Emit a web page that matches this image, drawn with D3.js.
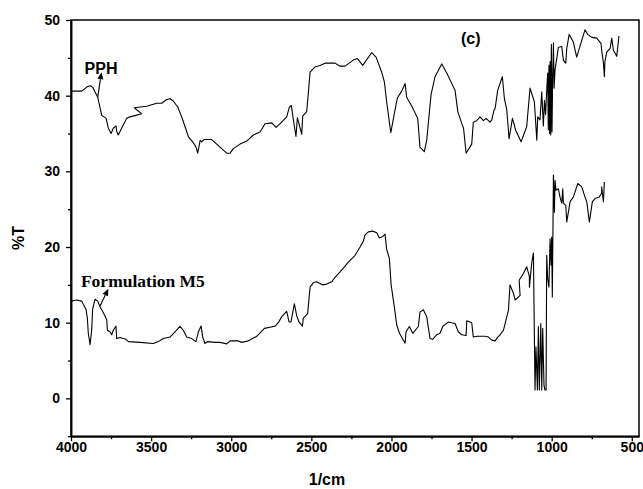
<!DOCTYPE html>
<html><head><meta charset="utf-8">
<script src="https://cdn.jsdelivr.net/npm/d3@7"></script>
<style>body{margin:0;background:#fff}svg{display:block}</style>
</head><body>
<svg id="c" width="643" height="489"></svg>
<script>
const xTicks = [4000,3500,3000,2500,2000,1500,1000,500];
const xMinor = [3750,3250,2750,2250,1750,1250,750];
const yTicks = [0,10,20,30,40,50];
const yMinor = [-5,5,15,25,35,45];
const xLabel = "1/cm";
const yLabel = "%T";
const seriesNames = ["PPH","Formulation M5"];
const panelLabel = "(c)";

const pph = [[4000,40.6],[3933,40.6],[3898,41.2],[3877,41.3],[3865,41.1],[3833,39.8],[3825,39.0],[3808,37.4],[3781,37.0],[3767,35.7],[3750,35.0],[3736,35.7],[3719,36.0],[3715,35.3],[3705,34.8],[3684,35.7],[3653,37.0],[3632,37.2],[3594,37.4],[3559,37.6],[3605,38.4],[3528,38.6],[3465,39.0],[3434,39.0],[3403,39.5],[3382,39.6],[3362,39.3],[3334,38.5],[3309,37.2],[3288,35.9],[3268,34.6],[3237,33.8],[3220,33.2],[3209,32.4],[3194,34.1],[3184,33.9],[3170,34.2],[3122,34.2],[3070,33.2],[3028,32.4],[3007,32.4],[2987,33.0],[2945,33.6],[2903,34.0],[2862,34.8],[2820,35.2],[2789,36.3],[2747,36.4],[2720,35.8],[2695,36.3],[2654,37.2],[2637,38.5],[2625,38.7],[2612,36.8],[2596,34.6],[2587,37.1],[2560,34.9],[2554,37.3],[2529,37.9],[2519,40.3],[2508,43.1],[2477,43.8],[2446,44.0],[2414,44.3],[2352,44.3],[2321,43.9],[2290,43.9],[2238,44.7],[2213,44.9],[2179,44.0],[2123,45.7],[2096,45.1],[2061,43.1],[2044,41.8],[2030,39.2],[2004,35.1],[1984,37.4],[1963,39.7],[1936,40.6],[1915,41.6],[1905,39.8],[1873,38.6],[1836,37.0],[1822,33.2],[1795,32.6],[1780,34.1],[1753,40.1],[1728,42.5],[1686,44.2],[1655,43.0],[1603,40.7],[1586,37.9],[1561,36.3],[1550,35.7],[1534,32.4],[1499,33.6],[1489,36.5],[1468,36.7],[1447,37.2],[1426,36.7],[1409,37.0],[1385,36.5],[1374,36.8],[1360,38.1],[1353,38.3],[1337,40.7],[1308,42.5],[1295,39.6],[1280,38.1],[1266,34.3],[1245,37.0],[1224,35.4],[1191,33.9],[1156,35.9],[1135,41.0],[1108,39.2],[1093,34.1],[1087,37.2],[1073,36.8],[1062,40.5],[1052,36.0],[1045,39.4],[1038,37.5],[1031,40.7],[1025,43.0],[1021,35.5],[1017,44.0],[1013,35.0],[1010,44.5],[1006,34.8],[1002,46.8],[998,35.2],[994,42.0],[989,47.0],[985,41.0],[979,43.4],[958,46.4],[937,46.5],[927,44.7],[912,44.3],[906,46.2],[891,48.1],[865,47.1],[844,45.1],[808,47.6],[792,48.7],[775,48.1],[750,47.7],[719,47.6],[692,46.9],[688,46.0],[677,44.3],[671,42.5],[668,44.5],[656,45.8],[636,46.2],[625,47.6],[615,46.0],[594,45.2],[580,47.9]];

const m5 = [[4000,12.85],[3965,13.0],[3933,12.85],[3906,11.7],[3898,10.6],[3892,8.6],[3881,7.1],[3871,9.0],[3865,11.8],[3850,13.1],[3833,12.85],[3819,12.1],[3798,11.3],[3777,10.4],[3773,9.0],[3757,8.8],[3746,8.4],[3736,9.0],[3719,9.55],[3715,7.9],[3694,8.05],[3674,7.9],[3657,7.8],[3642,7.5],[3569,7.4],[3486,7.25],[3455,7.5],[3424,7.9],[3382,8.1],[3351,8.8],[3320,9.5],[3299,9.0],[3278,8.1],[3247,7.9],[3220,7.5],[3205,8.8],[3188,9.55],[3178,8.1],[3164,7.25],[3149,7.5],[3101,7.4],[3070,7.4],[3028,7.2],[3007,7.6],[2960,7.6],[2935,7.4],[2893,7.6],[2841,8.2],[2793,9.25],[2758,9.4],[2726,9.55],[2706,10.0],[2685,10.8],[2654,11.5],[2639,10.1],[2627,10.1],[2606,12.5],[2591,10.9],[2577,10.1],[2556,9.55],[2550,10.6],[2523,11.2],[2508,14.7],[2487,15.3],[2467,15.4],[2431,15.0],[2404,15.1],[2373,15.4],[2352,16.0],[2321,16.7],[2300,17.2],[2269,18.0],[2227,18.9],[2196,20.0],[2175,20.8],[2165,21.6],[2144,22.0],[2117,22.1],[2092,21.9],[2075,21.2],[2054,21.4],[2040,21.7],[2030,19.7],[2013,18.5],[2002,15.0],[1982,12.1],[1967,9.7],[1950,8.6],[1929,7.8],[1915,7.3],[1909,8.8],[1888,9.5],[1867,8.6],[1832,9.5],[1822,11.4],[1801,11.7],[1780,10.8],[1759,7.9],[1743,7.8],[1718,8.4],[1697,8.6],[1680,9.5],[1645,10.1],[1603,9.9],[1583,8.8],[1561,8.4],[1534,8.3],[1530,10.25],[1499,10.0],[1489,8.1],[1464,8.2],[1416,8.2],[1395,8.1],[1374,7.7],[1353,7.6],[1337,8.1],[1322,8.4],[1301,9.0],[1280,10.8],[1270,11.6],[1260,15.0],[1239,13.9],[1228,13.0],[1197,13.6],[1203,15.6],[1176,16.5],[1156,17.4],[1139,16.1],[1139,14.7],[1124,18.0],[1114,19.2],[1104,1.1],[1098,6.8],[1089,1.1],[1083,9.5],[1077,1.1],[1068,9.9],[1062,1.1],[1056,9.25],[1048,1.75],[1042,1.1],[1035,1.1],[1031,18.9],[1025,15.85],[1017,14.7],[1010,21.1],[1004,17.6],[1000,21.3],[996,13.4],[989,29.5],[983,24.6],[979,28.8],[973,27.5],[958,27.7],[948,26.6],[937,25.8],[931,27.7],[927,25.8],[912,25.5],[906,23.3],[885,26.0],[865,26.6],[837,28.4],[812,27.95],[792,26.6],[781,26.0],[765,23.3],[746,26.0],[729,26.4],[704,26.6],[688,27.1],[688,27.95],[677,26.0],[671,28.6]];

// annotation anchors in data units
const pphArrow = [[3833,39.8],[3810,43.1]];
const m5Arrow = [[3819,12.2],[3767,14.5]];
const pphText = [3915,42.9];
const m5Text = [3938,14.7];
const panelText = [1505,46.8];

const svg = d3.select("#c");
const L=71, R=639, T=20, B=436.2;
const x = d3.scaleLinear().domain([4000,455]).range([L,R]);
const y = d3.scaleLinear().domain([-5,50]).range([B,T]);
const sans = "Arial, 'Liberation Sans', sans-serif";

svg.append("rect").attr("x",L).attr("y",T).attr("width",R-L).attr("height",B-T)
  .attr("fill","none").attr("stroke","#000").attr("stroke-width",1.5);

const gx = svg.append("g").attr("transform",`translate(0,${B})`)
  .call(d3.axisBottom(x).tickValues(xTicks).tickFormat(d3.format("d")).tickSize(5).tickPadding(1).tickSizeOuter(0));
const gxm = svg.append("g").attr("transform",`translate(0,${B})`)
  .call(d3.axisBottom(x).tickValues(xMinor).tickSize(3).tickFormat("").tickSizeOuter(0));
const gy = svg.append("g").attr("transform",`translate(${L},0)`)
  .call(d3.axisLeft(y).tickValues(yTicks).tickFormat(d3.format("d")).tickSize(5).tickPadding(6).tickSizeOuter(0));
const gym = svg.append("g").attr("transform",`translate(${L},0)`)
  .call(d3.axisLeft(y).tickValues(yMinor).tickSize(3).tickFormat("").tickSizeOuter(0));
[gx,gxm,gy,gym].forEach(g=>{
  g.select(".domain").attr("stroke-width",1.5);
  g.selectAll(".tick line").attr("stroke-width",1.3);
  g.selectAll("text").attr("font-family",sans).attr("font-weight","bold").attr("font-size",14).attr("fill","#000");
});

const line = d3.line().x(d=>x(d[0])).y(d=>y(d[1]));
[pph,m5].forEach(s=>{
  svg.append("path").attr("d",line(s)).attr("fill","none").attr("stroke","#000")
    .attr("stroke-width",1.1).attr("stroke-linejoin","round");
});

function arrow(a){
  const x1=x(a[0][0]), y1=y(a[0][1]), x2=x(a[1][0]), y2=y(a[1][1]);
  const ang=Math.atan2(y2-y1,x2-x1), len=7, w=3;
  const bx=x2-len*Math.cos(ang), by=y2-len*Math.sin(ang);
  svg.append("line").attr("x1",x1).attr("y1",y1).attr("x2",bx).attr("y2",by)
    .attr("stroke","#000").attr("stroke-width",1.1);
  const px=-Math.sin(ang)*w, py=Math.cos(ang)*w;
  svg.append("path").attr("d",`M${x2},${y2}L${bx+px},${by+py}L${bx-px},${by-py}Z`).attr("fill","#000");
}
arrow(pphArrow); arrow(m5Arrow);

svg.append("text").attr("x",x(pphText[0])).attr("y",y(pphText[1]))
  .attr("font-family",sans).attr("font-weight","bold").attr("font-size",16).text(seriesNames[0]);
svg.append("text").attr("x",x(m5Text[0])).attr("y",y(m5Text[1]))
  .attr("font-family","'Times New Roman','Liberation Serif',serif").attr("font-weight","bold").attr("font-size",17.5).text(seriesNames[1]);
svg.append("text").attr("x",x(panelText[0])).attr("y",y(panelText[1])).attr("text-anchor","middle")
  .attr("font-family",sans).attr("font-weight","bold").attr("font-size",16).text(panelLabel);

svg.append("text").attr("x",327).attr("y",485).attr("text-anchor","middle")
  .attr("font-family",sans).attr("font-weight","bold").attr("font-size",16).text(xLabel);
svg.append("text").attr("transform","translate(24,238) rotate(-90)").attr("text-anchor","middle")
  .attr("font-family",sans).attr("font-weight","bold").attr("font-size",16).text(yLabel);
</script>
</body></html>
